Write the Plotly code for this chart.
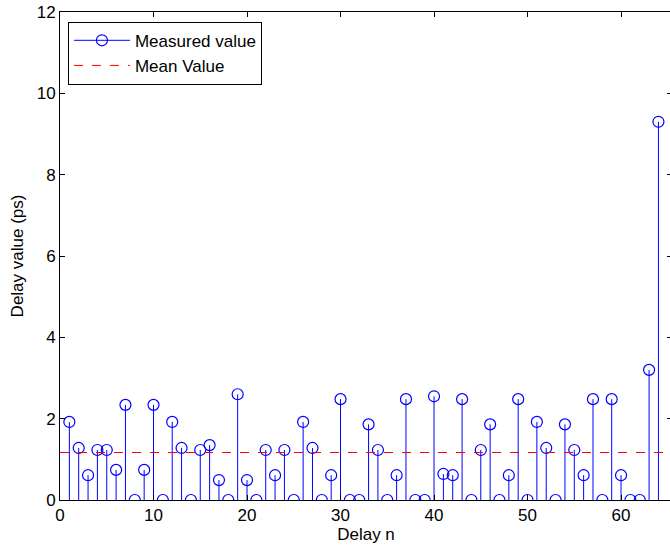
import plotly.graph_objects as go
import numpy as np

delay_n = list(range(1, 65))
delay_values = [
    1.92, 1.28, 0.61, 1.23, 1.23, 0.74, 2.34, 0.0, 0.74, 2.34,
    0.0, 1.92, 1.28, 0.0, 1.23, 1.35, 0.49, 0.0, 2.60, 0.49,
    0.0, 1.23, 0.61, 1.23, 0.0, 1.92, 1.28, 0.0, 0.61, 2.48,
    0.0, 0.0, 1.86, 1.23, 0.0, 0.61, 2.48, 0.0, 0.0, 2.55,
    0.64, 0.61, 2.48, 0.0, 1.23, 1.86, 0.0, 0.61, 2.48, 0.0,
    1.92, 1.28, 0.0, 1.86, 1.23, 0.61, 2.48, 0.0, 2.48, 0.61,
    0.0, 0.0, 3.20, 9.30,
]
mean_value = float(np.mean(delay_values))
x_ticks = [0, 10, 20, 30, 40, 50, 60]
y_ticks = [0, 2, 4, 6, 8, 10, 12]
x_max = 65.45

BLUE = "#0000ff"
RED = "#ff0000"

# stems built from data
sx, sy = [], []
for n, v in zip(delay_n, delay_values):
    sx += [n, n, None]
    sy += [0, v, None]

fig = go.Figure()
fig.add_trace(go.Scatter(
    x=sx, y=sy, mode="lines", showlegend=False, hoverinfo="skip",
    line=dict(color=BLUE, width=1),
))
fig.add_trace(go.Scatter(
    x=delay_n, y=delay_values, mode="markers", showlegend=False,
    marker=dict(symbol="circle-open", size=11, color=BLUE, line=dict(width=1.2)),
))
# legend entry for the stem series
fig.add_trace(go.Scatter(
    x=[None], y=[None], mode="lines+markers", name="Measured value",
    line=dict(color=BLUE, width=1),
    marker=dict(symbol="circle-open", size=11, color=BLUE, line=dict(width=1.2)),
))
fig.add_trace(go.Scatter(
    x=[0, x_max], y=[mean_value, mean_value], mode="lines", name="Mean Value",
    line=dict(color=RED, width=1, dash="dash"),
))

axis_common = dict(
    showgrid=False, zeroline=False, showline=True, linecolor="black", linewidth=1,
    mirror="ticks", ticks="inside", ticklen=5, tickcolor="black",
    tickfont=dict(size=17, color="black"), automargin=False,
)
fig.update_xaxes(range=[0, x_max], tickvals=x_ticks,
                 title=dict(text="Delay n", font=dict(size=17, color="black"), standoff=0),
                 **axis_common)
fig.update_yaxes(range=[0, 12], tickvals=y_ticks,
                 title=dict(text="Delay value (ps)", font=dict(size=17, color="black"), standoff=8),
                 **axis_common)

fig.update_layout(
    width=672, height=550,
    margin=dict(l=60, r=0, t=12, b=50),
    plot_bgcolor="white", paper_bgcolor="white",
    font=dict(family="Liberation Sans, Arial, sans-serif", size=17, color="black"),
    legend=dict(x=0.013, y=0.98, xanchor="left", yanchor="top",
                bgcolor="white", bordercolor="black", borderwidth=1,
                font=dict(size=17), tracegroupgap=0, itemwidth=56),
    showlegend=True,
)

fig.write_html("out.html", config={"displayModeBar": False},
               post_script="document.body.style.margin='0';document.body.style.overflow='hidden';")
